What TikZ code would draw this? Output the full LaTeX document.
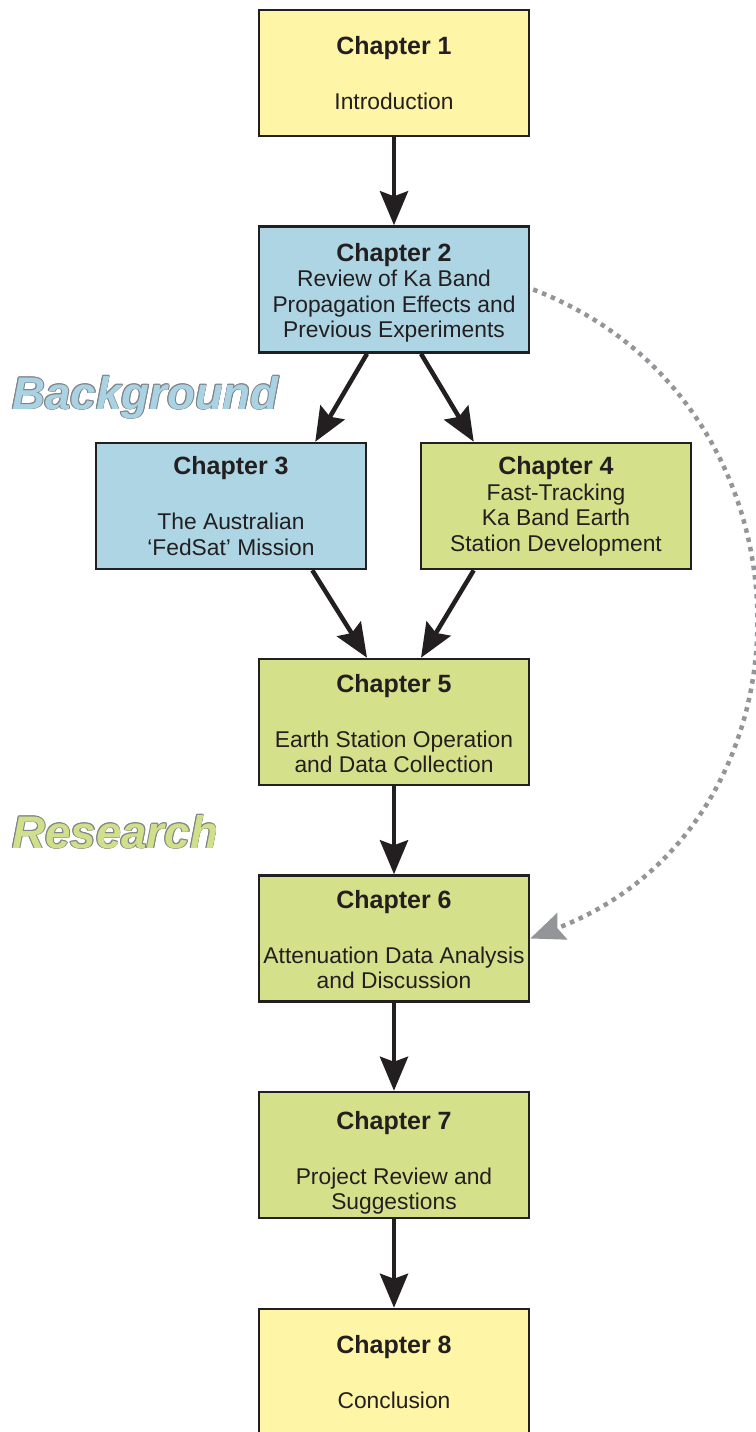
\documentclass[tikz,border=0pt]{standalone}
\usepackage{fontspec}
\setmainfont{Liberation Sans}
\usetikzlibrary{arrows.meta,calc}
\definecolor{linec}{HTML}{231F20}
\definecolor{yel}{HTML}{FFF5A6}
\definecolor{blu}{HTML}{AED5E3}
\definecolor{grn}{HTML}{D4E18A}
\definecolor{dotc}{HTML}{939598}
\definecolor{outl}{HTML}{808285}
\definecolor{bglbl}{HTML}{A9D2E2}
\definecolor{rslbl}{HTML}{D0DF8A}
\newcommand\bodyfont{\fontsize{22.8}{25.5}\selectfont}
\newcommand\ttl[1]{{\fontsize{25}{25.5}\selectfont\bfseries #1}}
\newcommand\biglbl{\fontsize{45.7}{50}\selectfont\bfseries\itshape}
\tikzset{
  chap/.style={draw=linec, line width=2.5pt, minimum width=270pt, minimum height=126pt, inner sep=0pt},
  txt/.style={align=center, text=linec, font=\bodyfont, inner sep=0pt},
  flow/.style={draw=linec, line width=4.5pt, -{Stealth[length=34pt,width=28pt,inset=5pt]}},
  dotflow/.style={draw=dotc, line width=4.5pt, dash pattern=on 4.5pt off 5pt,
    -{Stealth[length=34pt,width=28pt,inset=5pt]}},
  lbl/.style={anchor=base west, inner sep=0pt, font=\biglbl},
}
\begin{document}
\begin{tikzpicture}[x=1pt,y=-1pt]
\useasboundingbox (0,0) rectangle (755,1432);
\node[chap, fill=yel] (c1) at (394,73) {};
\node[chap, fill=blu] (c2) at (394,289.5) {};
\node[chap, fill=blu] (c3) at (231,506) {};
\node[chap, fill=grn] (c4) at (556,506) {};
\node[chap, fill=grn] (c5) at (394,722) {};
\node[chap, fill=grn] (c6) at (394,938.5) {};
\node[chap, fill=grn] (c7) at (394,1155) {};
\node[chap, fill=yel] (c8) at (394,1372) {};

\node[txt] (t1) at (c1) {\ttl{Chapter 1}\\[29.5pt]Introduction};
\node[txt] (t2) at ($(c2)+(0,3.5)$) {\ttl{Chapter 2}\\Review of Ka Band\\Propagation Effects and\\Previous Experiments};
\node[txt] (t3) at (c3) {\ttl{Chapter 3}\\[29.5pt]The Australian\\`FedSat' Mission};
\node[txt] (t4) at ($(c4)+(0,0.5)$) {\ttl{Chapter 4}\\Fast-Tracking\\Ka Band Earth\\Station Development};
\node[txt] (t5) at ($(c5)+(0,1.5)$) {\ttl{Chapter 5}\\[29.5pt]Earth Station Operation\\and Data Collection};
\node[txt] (t6) at ($(c6)+(0,1)$) {\ttl{Chapter 6}\\[29.5pt]Attenuation Data Analysis\\and Discussion};
\node[txt] (t7) at ($(c7)+(0,8)$) {\ttl{Chapter 7}\\[29.5pt]Project Review and\\Suggestions};
\node[txt] (t8) at ($(c8)+(0,0.5)$) {\ttl{Chapter 8}\\[29.5pt]Conclusion};

\draw[flow] (c1.south) -- (c2.north);
\draw[flow] ($(c2.south)+(-27,0)$) -- ($(c3.north east)+(-52,0)$);
\draw[flow] ($(c2.south)+(27,0)$) -- ($(c4.north west)+(54,0)$);
\draw[flow] ($(c3.south east)+(-55,0)$) -- ($(c5.north)+(-27,0)$);
\draw[flow] ($(c4.south west)+(54,0)$) -- ($(c5.north)+(27,0)$);
\draw[flow] (c5.south) -- (c6.north);
\draw[flow] (c6.south) -- (c7.north);
\draw[flow] (c7.south) -- (c8.north);

\draw[dotflow] ($(c2.east)+(3,0)$) .. controls ($(c2.east)+(298,114)$) and ($(c6.east)+(298,-114)$) .. (c6.east);

\foreach \dx/\dy in {-0.9/0,0.9/0,0/-0.9,0/0.9,-0.65/-0.65,0.65/-0.65,-0.65/0.65,0.65/0.65} {
  \node[lbl, text=outl] at (12+\dx,409+\dy) {Background};
  \node[lbl, text=outl] at (12+\dx,848+\dy) {Research};
}
\node[lbl, text=bglbl] (bg) at (12,409) {Background};
\node[lbl, text=rslbl] (rs) at (12,848) {Research};
\end{tikzpicture}
\end{document}
